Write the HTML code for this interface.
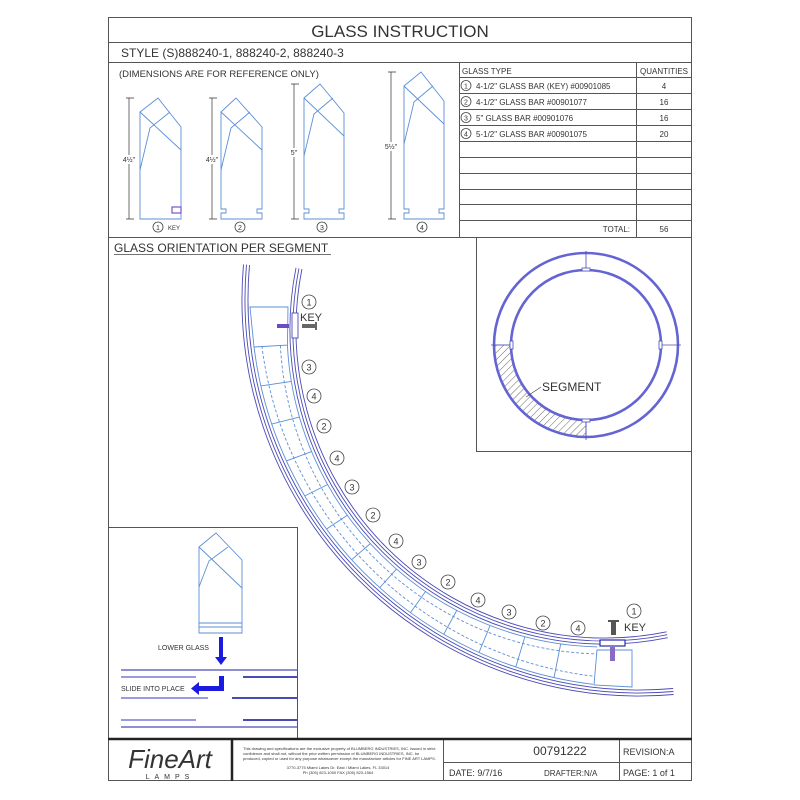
<!DOCTYPE html>
<html><head><meta charset="utf-8"><style>
html,body{margin:0;padding:0;background:#fff;}
svg{display:block;}
text{font-family:"Liberation Sans",sans-serif;fill:#333;}
</style></head><body>
<svg width="800" height="800" viewBox="0 0 800 800" xmlns="http://www.w3.org/2000/svg">
<defs>
<pattern id="hat" width="5" height="5" patternUnits="userSpaceOnUse" patternTransform="rotate(45)">
<line x1="0" y1="0" x2="0" y2="5" stroke="#444" stroke-width="0.8"/>
</pattern>
</defs>
<!-- frame -->
<g fill="none" stroke="#555" stroke-width="1">
<rect x="108.5" y="17.5" width="583" height="763"/>
<line x1="108" y1="42.5" x2="692" y2="42.5"/>
<line x1="108" y1="62.5" x2="692" y2="62.5"/>
<line x1="108" y1="237.5" x2="692" y2="237.5"/>
<line x1="459.5" y1="62" x2="459.5" y2="237"/>
<line x1="636.5" y1="62" x2="636.5" y2="237"/>
<line x1="459" y1="77.5" x2="692" y2="77.5"/>
<line x1="459" y1="93.5" x2="692" y2="93.5"/>
<line x1="459" y1="109.5" x2="692" y2="109.5"/>
<line x1="459" y1="125.5" x2="692" y2="125.5"/>
<line x1="459" y1="141.5" x2="692" y2="141.5"/>
<line x1="459" y1="157.5" x2="692" y2="157.5"/>
<line x1="459" y1="173.5" x2="692" y2="173.5"/>
<line x1="459" y1="189.5" x2="692" y2="189.5"/>
<line x1="459" y1="204.5" x2="692" y2="204.5"/>
<line x1="459" y1="220.5" x2="692" y2="220.5"/>
<polyline points="476.5,237 476.5,451.5 692,451.5"/>
<polyline points="108,527.5 297.5,527.5 297.5,739"/>
<line x1="443.5" y1="739" x2="443.5" y2="781"/>
<line x1="619.5" y1="739" x2="619.5" y2="781"/>
<line x1="443" y1="762.5" x2="692" y2="762.5"/>
</g>
<line x1="108" y1="739" x2="692" y2="739" stroke="#222" stroke-width="2.5"/>
<line x1="232" y1="739" x2="232" y2="781" stroke="#222" stroke-width="2.5"/>

<text x="400" y="37" font-size="17" text-anchor="middle">GLASS INSTRUCTION</text>
<text x="121" y="57" font-size="12">STYLE (S)888240-1, 888240-2, 888240-3</text>
<text x="119" y="77" font-size="9.5">(DIMENSIONS ARE FOR REFERENCE ONLY)</text>
<text x="462" y="74" font-size="8">GLASS TYPE</text>
<text x="664" y="74" font-size="8" text-anchor="middle">QUANTITIES</text>
<g font-size="8">
<circle cx="466" cy="85.5" r="5" fill="none" stroke="#444" stroke-width="0.8"/><text x="466" y="88.5" text-anchor="middle" font-size="7">1</text>
<text x="476" y="89">4-1/2" GLASS BAR (KEY) #00901085</text><text x="664" y="89" text-anchor="middle">4</text>
<circle cx="466" cy="101.5" r="5" fill="none" stroke="#444" stroke-width="0.8"/><text x="466" y="104.5" text-anchor="middle" font-size="7">2</text>
<text x="476" y="105">4-1/2" GLASS BAR #00901077</text><text x="664" y="105" text-anchor="middle">16</text>
<circle cx="466" cy="117.5" r="5" fill="none" stroke="#444" stroke-width="0.8"/><text x="466" y="120.5" text-anchor="middle" font-size="7">3</text>
<text x="476" y="121">5" GLASS BAR #00901076</text><text x="664" y="121" text-anchor="middle">16</text>
<circle cx="466" cy="133.5" r="5" fill="none" stroke="#444" stroke-width="0.8"/><text x="466" y="136.5" text-anchor="middle" font-size="7">4</text>
<text x="476" y="137">5-1/2" GLASS BAR #00901075</text><text x="664" y="137" text-anchor="middle">20</text>
<text x="630" y="232" text-anchor="end">TOTAL:</text><text x="664" y="232" text-anchor="middle">56</text>
</g>

<g fill="none" stroke="#5b8fd6" stroke-width="0.9">
<path d="M140,112 L158,98 L181,127 L181,219 L140,219 Z"/>
<path d="M140,112 L181,150 M170,112 L150,128 L140,170"/>
<path d="M221,112 L236,98 L262,127 L262,209 L257,209 L257,213 L262,213 L262,219 L221,219 L221,213 L226,213 L226,209 L221,209 Z"/>
<path d="M221,112 L262,150 M250,112 L231,128 L221,170"/>
<path d="M304,98 L320,84 L344,113 L344,209 L339,209 L339,213 L344,213 L344,219 L304,219 L304,213 L309,213 L309,209 L304,209 Z"/>
<path d="M304,98 L344,136 M333,98 L314,114 L304,156"/>
<path d="M404,86 L421,72 L444,101 L444,209 L439,209 L439,213 L444,213 L444,219 L404,219 L404,213 L409,213 L409,209 L404,209 Z"/>
<path d="M404,86 L444,124 M433,86 L414,102 L404,144"/>
<path d="M199,547 L216,533 L242,560 L242,633 L199,633 Z M199,623 H242 M199,627 H242"/>
<path d="M199,547 L242,588 M228,547 L209,561 L199,587"/>
</g>
<rect x="172" y="207" width="9" height="6" fill="none" stroke="#7a55c8" stroke-width="1.2"/>
<g stroke="#333" stroke-width="0.7" fill="none">
<path d="M129,98 V219 M126,98 H134 M126,219 H134"/>
<path d="M212,98 V219 M209,98 H217 M209,219 H217"/>
<path d="M294,84 V219 M291,84 H299 M291,219 H299"/>
<path d="M391,72 V219 M388,72 H396 M388,219 H396"/>
</g>
<g font-size="7" text-anchor="middle">
<rect x="125" y="155" width="8" height="9" fill="#fff"/><text x="129" y="162">4½"</text>
<rect x="208" y="155" width="8" height="9" fill="#fff"/><text x="212" y="162">4½"</text>
<rect x="290" y="148" width="8" height="9" fill="#fff"/><text x="294" y="155">5"</text>
<rect x="387" y="142" width="8" height="9" fill="#fff"/><text x="391" y="149">5½"</text>
</g>
<g fill="none" stroke="#444" stroke-width="0.8">
<circle cx="158" cy="227" r="5"/><circle cx="240" cy="227" r="5"/><circle cx="322" cy="227" r="5"/><circle cx="422" cy="227" r="5"/>
</g>
<g font-size="7" text-anchor="middle">
<text x="158" y="230">1</text><text x="240" y="230">2</text><text x="322" y="230">3</text><text x="422" y="230">4</text>
</g>
<text x="168" y="230" font-size="6">KEY</text>

<text x="114" y="252" font-size="12">GLASS ORIENTATION PER SEGMENT</text>
<line x1="114" y1="254.5" x2="331" y2="254.5" stroke="#444" stroke-width="0.8"/>

<!-- big arc -->
<g fill="none" stroke="#4a4ab8" stroke-width="0.9">
<path d="M243.5,264.4 A397,397 0 0 0 673.6,694.5"/>
<path d="M246.5,264.6 A394,394 0 0 0 673.4,691.5"/>
<path d="M249.5,264.9 A391,391 0 0 0 673.1,688.5"/>
<path d="M296,267.8 A315,315 0 0 0 667.8,637.7"/>
<path d="M298.9,268.4 A312,312 0 0 0 667.2,634.7"/>
<path d="M301.9,269 A309,309 0 0 0 666.6,631.8"/>
</g>
<g fill="none" stroke="#5b8fd6" stroke-width="0.9">
<path d="M254,347 A388,388 0 0 0 593.1,684.3"/>
<path d="M287.4,345.1 A318,318 0 0 0 597.2,646.9"/>
<path d="M261.9,346 A380,380 0 0 0 594,676.3" stroke-dasharray="3,2"/>
<path d="M280.4,345.5 A325,325 0 0 0 597.1,653.9" stroke-dasharray="3,2"/>
<path d="M291.3,381.4 L260.9,385.9 M299.4,417.1 L271.7,424.1 M311.6,451.6 L286.4,460.9 M327.6,484.5 L304.7,496 M347.3,515.3 L326.6,529 M370.3,543.6 L351.6,559.7 M396.5,569.1 L379.7,587.7 M425.5,591.5 L410.5,612.6 M456.8,610.4 L443.7,634.3 M490.1,625.5 L479,652.5 M524.9,636.8 L515.8,666.9 M560.7,643.9 L554,677.6"/>
<polygon points="250,307 288,307 287.4,345.1 254,347"/>
<polygon points="597,650 632,650 632,687 594,685"/>
</g>
<rect x="292" y="313" width="6" height="25" fill="#fff" stroke="#4a4ab8" stroke-width="0.9"/>
<rect x="277" y="324" width="12" height="4" fill="#6a4ac8"/>
<rect x="302" y="324" width="13" height="4" fill="#666"/><rect x="315" y="322" width="2" height="8" fill="#666"/>
<rect x="600" y="640" width="25" height="6" fill="#fff" stroke="#2a2aa8" stroke-width="1.2"/>
<rect x="610" y="647" width="5" height="14" fill="#8a6ac8"/>
<rect x="611" y="622" width="5" height="13" fill="#555"/><rect x="608" y="620" width="11" height="2" fill="#555"/>

<g fill="none" stroke="#444" stroke-width="0.8">
<circle cx="309" cy="302" r="7"/><circle cx="309" cy="367" r="7"/><circle cx="314" cy="396" r="7"/><circle cx="324" cy="426" r="7"/>
<circle cx="337" cy="458" r="7"/><circle cx="352" cy="487" r="7"/><circle cx="373" cy="515" r="7"/><circle cx="396" cy="541" r="7"/>
<circle cx="419" cy="562" r="7"/><circle cx="448" cy="582" r="7"/><circle cx="478" cy="600" r="7"/><circle cx="509" cy="612" r="7"/>
<circle cx="543" cy="623" r="7"/><circle cx="578" cy="628" r="7"/><circle cx="634" cy="611" r="7"/>
</g>
<g font-size="9" text-anchor="middle">
<text x="309" y="305.5">1</text><text x="309" y="370.5">3</text><text x="314" y="399.5">4</text><text x="324" y="429.5">2</text>
<text x="337" y="461.5">4</text><text x="352" y="490.5">3</text><text x="373" y="518.5">2</text><text x="396" y="544.5">4</text>
<text x="419" y="565.5">3</text><text x="448" y="585.5">2</text><text x="478" y="603.5">4</text><text x="509" y="615.5">3</text>
<text x="543" y="626.5">2</text><text x="578" y="631.5">4</text><text x="634" y="614.5">1</text>
</g>
<text x="300" y="321" font-size="11">KEY</text>
<text x="624" y="631" font-size="11">KEY</text>

<!-- ring inset -->
<path d="M494,345 A92,92 0 0 0 586,437 L586,420 A75,75 0 0 1 511,345 Z" fill="url(#hat)" stroke="#5b8fd6" stroke-width="0.8"/>
<circle cx="586" cy="345" r="92" fill="none" stroke="#6464d2" stroke-width="2.6"/>
<circle cx="586" cy="345" r="75" fill="none" stroke="#6464d2" stroke-width="2.6"/>
<g stroke="#4a4ab8" stroke-width="0.8" fill="#fff">
<line x1="586" y1="251" x2="586" y2="271"/><line x1="586" y1="419" x2="586" y2="440"/>
<line x1="491" y1="345" x2="513" y2="345"/><line x1="659" y1="345" x2="681" y2="345"/>
<rect x="582" y="268" width="8" height="3"/><rect x="582" y="419" width="8" height="3"/>
<rect x="510" y="341" width="3" height="8"/><rect x="659" y="341" width="3" height="8"/>
</g>
<line x1="541" y1="387" x2="526" y2="397" stroke="#444" stroke-width="0.7"/>
<text x="542" y="391" font-size="12">SEGMENT</text>

<g stroke-width="1.2">
<line x1="121" y1="670" x2="297" y2="670" stroke="#4a4ab8"/>
<line x1="121" y1="677" x2="196" y2="677" stroke="#9a9ae0" stroke-width="2"/>
<line x1="243" y1="677" x2="297" y2="677" stroke="#4a4ab8" stroke-width="2"/>
<line x1="121" y1="698" x2="208" y2="698" stroke="#9a9ae0" stroke-width="2"/>
<line x1="232" y1="698" x2="297" y2="698" stroke="#4a4ab8" stroke-width="2"/>
<line x1="121" y1="720" x2="196" y2="720" stroke="#9a9ae0" stroke-width="2"/>
<line x1="243" y1="720" x2="297" y2="720" stroke="#4a4ab8" stroke-width="2"/>
<line x1="121" y1="727" x2="297" y2="727" stroke="#4a4ab8"/>
</g>
<path d="M219,637 H223 V657 H227 L221,665 L215,657 H219 Z" fill="#1a1ae0"/>
<path d="M219,676 H224 V691 H199 V695 L191,688.5 L199,682 V686 H219 Z" fill="#1a1ae0"/>
<text x="158" y="650" font-size="7">LOWER GLASS</text>
<text x="121" y="691" font-size="7">SLIDE INTO PLACE</text>

<text x="170" y="768" font-size="26" font-style="italic" font-family="Liberation Serif, serif" text-anchor="middle" fill="#111">FineArt</text>
<text x="170" y="779" font-size="7" text-anchor="middle" letter-spacing="5">LAMPS</text>
<g font-size="4" font-family="Liberation Serif, serif">
<text x="243" y="750">This drawing and specifications are the exclusive property of BLUMBERG INDUSTRIES, INC. issued in strict</text>
<text x="243" y="755">confidence and shall not, without the prior written permission of BLUMBERG INDUSTRIES, INC. be</text>
<text x="243" y="760">produced, copied or used for any purpose whatsoever except the manufacture articles for FINE ART LAMPS.</text>
<text x="338" y="769" text-anchor="middle">3770-3775 Miami Lakes Dr. East / Miami Lakes, FL 33014</text>
<text x="338" y="774" text-anchor="middle">Ph (305) 823-1050 FAX (305) 823-1564</text>
</g>
<text x="560" y="755" font-size="12" text-anchor="middle">00791222</text>
<text x="623" y="755" font-size="9">REVISION:A</text>
<text x="449" y="776" font-size="9">DATE: 9/7/16</text>
<text x="544" y="776" font-size="8" fill="#aaa">DRAFTER:N/A</text>
<text x="623" y="776" font-size="9">PAGE: 1 of 1</text>
</svg>
</body></html>
